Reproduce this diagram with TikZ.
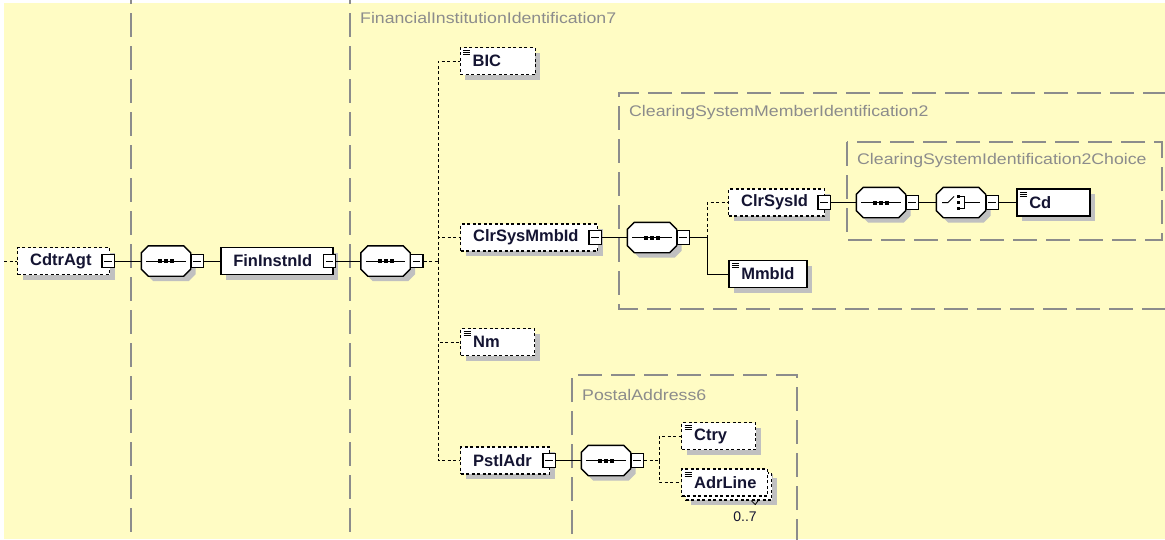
\documentclass[tikz,border=0pt]{standalone}
\usepackage{fontspec}
\setmainfont{Liberation Sans}
\newfontfamily\typefont[FakeStretch=1.15]{Liberation Sans}
\usetikzlibrary{shadows}
\definecolor{paper}{RGB}{255,252,196}
\definecolor{typegray}{RGB}{140,140,140}
\definecolor{shade}{RGB}{192,192,192}
\definecolor{ink}{RGB}{20,20,50}

% octagon with cut corners for the compositors
\makeatletter
\pgfdeclareshape{octobox}{%
  \inheritsavedanchors[from=rectangle]%
  \inheritanchorborder[from=rectangle]%
  \inheritanchor[from=rectangle]{center}%
  \inheritanchor[from=rectangle]{north}%
  \inheritanchor[from=rectangle]{south}%
  \inheritanchor[from=rectangle]{east}%
  \inheritanchor[from=rectangle]{west}%
  \inheritanchor[from=rectangle]{north east}%
  \inheritanchor[from=rectangle]{north west}%
  \inheritanchor[from=rectangle]{south east}%
  \inheritanchor[from=rectangle]{south west}%
  \backgroundpath{%
    \southwest\edef\oxa{\the\pgf@x}\edef\oya{\the\pgf@y}%
    \northeast\edef\oxb{\the\pgf@x}\edef\oyb{\the\pgf@y}%
    \pgfpathmoveto{\pgfpoint{\oxa}{\oya+7pt}}%
    \pgfpathlineto{\pgfpoint{\oxa}{\oyb-7pt}}%
    \pgfpathlineto{\pgfpoint{\oxa+7pt}{\oyb}}%
    \pgfpathlineto{\pgfpoint{\oxb-7pt}{\oyb}}%
    \pgfpathlineto{\pgfpoint{\oxb}{\oyb-7pt}}%
    \pgfpathlineto{\pgfpoint{\oxb}{\oya+7pt}}%
    \pgfpathlineto{\pgfpoint{\oxb-7pt}{\oya}}%
    \pgfpathlineto{\pgfpoint{\oxa+7pt}{\oya}}%
    \pgfpathclose}%
}
\makeatother

\begin{document}
\begin{tikzpicture}[x=1pt,y=-1pt,
shade/.style={drop shadow={shadow xshift=5pt,shadow yshift=-5pt,fill=shade,opacity=1}},
el/.style={shade,draw=black,line width=1.6pt,fill=white,anchor=west,align=left,
  minimum height=27,inner xsep=12.5pt,inner ysep=0pt,text width=#1,
  font=\fontsize{16.5}{18}\selectfont\bfseries,text=ink},
opt/.style={line width=1pt,dash pattern=on 3pt off 2.5pt},
oel/.style={el=#1,opt,line width=1.2pt},
simple/.style={path picture={\foreach \k in {0,2,4}
  \draw[solid,line width=0.8pt] ([shift={(3pt,-3pt-\k pt)}]path picture bounding box.north west) -- ++(7pt,0pt);}},
tog/.style={draw=black,line width=1.1pt,fill=white,minimum width=12.5,minimum height=13.5,inner sep=0pt,
  path picture={\draw[solid,line width=1pt] ([xshift=2.5pt]path picture bounding box.west) -- ([xshift=-2.5pt]path picture bounding box.east);}},
comp/.style={shade,octobox,draw=black,line width=1.4pt,fill=white,minimum width=48,minimum height=29,inner sep=0pt},
seq/.style={comp,path picture={
  \draw[line width=1pt] ([xshift=5pt]path picture bounding box.west) -- ([xshift=-5pt]path picture bounding box.east);
  \foreach \d in {-6,0,6}
    \fill[black] ([xshift=\d pt]path picture bounding box.center) ++(-2pt,-2pt) rectangle ++(4pt,4pt);}},
choice/.style={comp,path picture={
  \coordinate (cc) at (path picture bounding box.center);
  \draw[line width=1pt] ([xshift=-19pt]cc) -- ([xshift=-13pt]cc) -- ([shift={(-7pt,6pt)}]cc);
  \foreach \d in {-6,0,6}
    \fill[black] ([shift={(-3pt,\d pt)}]cc) ++(-1.5pt,-1.5pt) rectangle ++(3pt,3pt);
  \draw[line width=1pt] ([shift={(-3pt,6pt)}]cc) -| ([shift={(3pt,-6pt)}]cc) -- ([shift={(-3pt,-6pt)}]cc);
  \draw[line width=1pt] ([xshift=3pt]cc) -- ([xshift=19pt]cc);}},
typebox/.style={draw=typegray,line width=1.3pt,dash pattern=on 24pt off 9pt},
typelbl/.style={anchor=west,inner sep=0pt,text=typegray,font=\typefont\fontsize{15.4}{17}\selectfont}]

\useasboundingbox (0,0) rectangle (1165,539);
\clip (0,0) rectangle (1165,539);
\fill[white] (0,0) rectangle (1165,539);
\fill[paper] (4,3) rectangle (1165,539);

% complex type frames
\draw[typebox] (131,-20) -- (131,560);
\draw[typebox] (350,-20) -- (350,560);
\draw[typebox] (1200,93) -| (619,309) -- (1200,309);
\draw[typebox] (847,142) rectangle (1162,240);
\draw[typebox] (572,600) |- (797,375) -- (797,600);
\node[typelbl] (finlbl) at (360,18) {FinancialInstitutionIdentification7};
\node[typelbl] (csmlbl) at (629,113) {ClearingSystemMemberIdentification2};
\node[typelbl] (csilbl) at (857,161) {ClearingSystemIdentification2Choice};
\node[typelbl] (pallbl) at (582,395) {PostalAddress6};

% main row
\coordinate (inl) at (4,261);
\node[oel=67pt] (cdtr) at (17,261) {CdtrAgt};
\node[tog] (cdtrx) at ([xshift=-2]cdtr.east) {};
\node[seq] (seqa) at (166,261) {};
\node[tog] (seqax) at ([xshift=6.5]seqa.east) {};
\node[el=87pt] (fin) at (220,261) {FinInstnId};
\node[tog] (finx) at ([xshift=-4]fin.east) {};
\node[seq] (seqb) at (385.5,261) {};
\node[tog] (seqbx) at ([xshift=6.5]seqb.east) {};
\coordinate (tb) at (438,261);

% FinancialInstitutionIdentification7
\node[oel=50pt,simple] (bic) at (459.5,61) {BIC};
\node[oel=112pt] (clrmmb) at (460,237.5) {ClrSysMmbId};
\node[tog] (clrmmbx) at ([xshift=-3]clrmmb.east) {};
\node[oel=49pt,simple] (nm) at (460,342) {Nm};
\node[oel=64pt] (pstl) at (460,460.5) {PstlAdr};
\node[tog] (pstlx) at ([xshift=-1]pstl.east) {};

% ClearingSystemMemberIdentification2
\node[seq] (seqc) at (652,237.5) {};
\node[tog] (seqcx) at ([xshift=6.5]seqc.east) {};
\coordinate (tc) at (707,237.5);
\node[oel=71pt] (clrid) at (728,202.5) {ClrSysId};
\node[tog] (clridx) at ([xshift=-1]clrid.east) {};
\node[el=53pt,simple] (mmbid) at (728,274) {MmbId};

% ClearingSystemIdentification2Choice
\node[seq] (seqd) at (881,202.5) {};
\node[tog] (seqdx) at ([xshift=6.5]seqd.east) {};
\node[choice] (chc) at (961,202.5) {};
\node[tog] (chcx) at ([xshift=6.5]chc.east) {};
\node[el=48pt,simple] (cd) at (1016,202.5) {Cd};

% PostalAddress6
\node[seq] (seqe) at (606,460.5) {};
\node[tog] (seqex) at ([xshift=6.5]seqe.east) {};
\coordinate (te) at (659,460.5);
\node[oel=49pt,simple] (ctry) at (681,436) {Ctry};
\node[oel=61pt,simple,
  drop shadow={shadow xshift=9pt,shadow yshift=-9pt,fill=shade,opacity=1},
  preaction={draw=black,fill=white,line width=1.2pt,dash pattern=on 3pt off 2.5pt,
    transform canvas={shift={(4pt,-4pt)}}}] (adr) at (681,482.5) {AdrLine};
\draw[line width=0.8pt] ([shift={(-17,4)}]adr.south east) -- ++(4,4) -- ++(3,-4);
\node[inner sep=0pt,font=\fontsize{14}{16}\selectfont,text=ink] (occ) at (745,517) {0..7};

% connectors
\draw[opt] (inl) -- (cdtr);
\draw[line width=1pt] (cdtrx) -- (seqa);
\draw[line width=1pt] (seqax) -- (fin);
\draw[line width=1pt] (finx) -- (seqb);
\draw[opt] (seqbx) -- (tb);
\foreach \c in {bic,clrmmb,nm,pstl}
  \draw[opt] (tb) |- (\c);
\draw[line width=1pt] (clrmmbx) -- (seqc);
\draw[line width=1pt] (seqcx) -- (tc);
\draw[opt] (tc) |- (clrid);
\draw[line width=1pt] (tc) |- (mmbid);
\draw[line width=1pt] (clridx) -- (seqd);
\draw[line width=1pt] (seqdx) -- (chc);
\draw[line width=1pt] (chcx) -- (cd);
\draw[line width=1pt] (pstlx) -- (seqe);
\draw[opt] (seqex) -- (te);
\draw[opt] (te) |- (ctry);
\draw[opt] (te) |- (adr);
\end{tikzpicture}
\end{document}
